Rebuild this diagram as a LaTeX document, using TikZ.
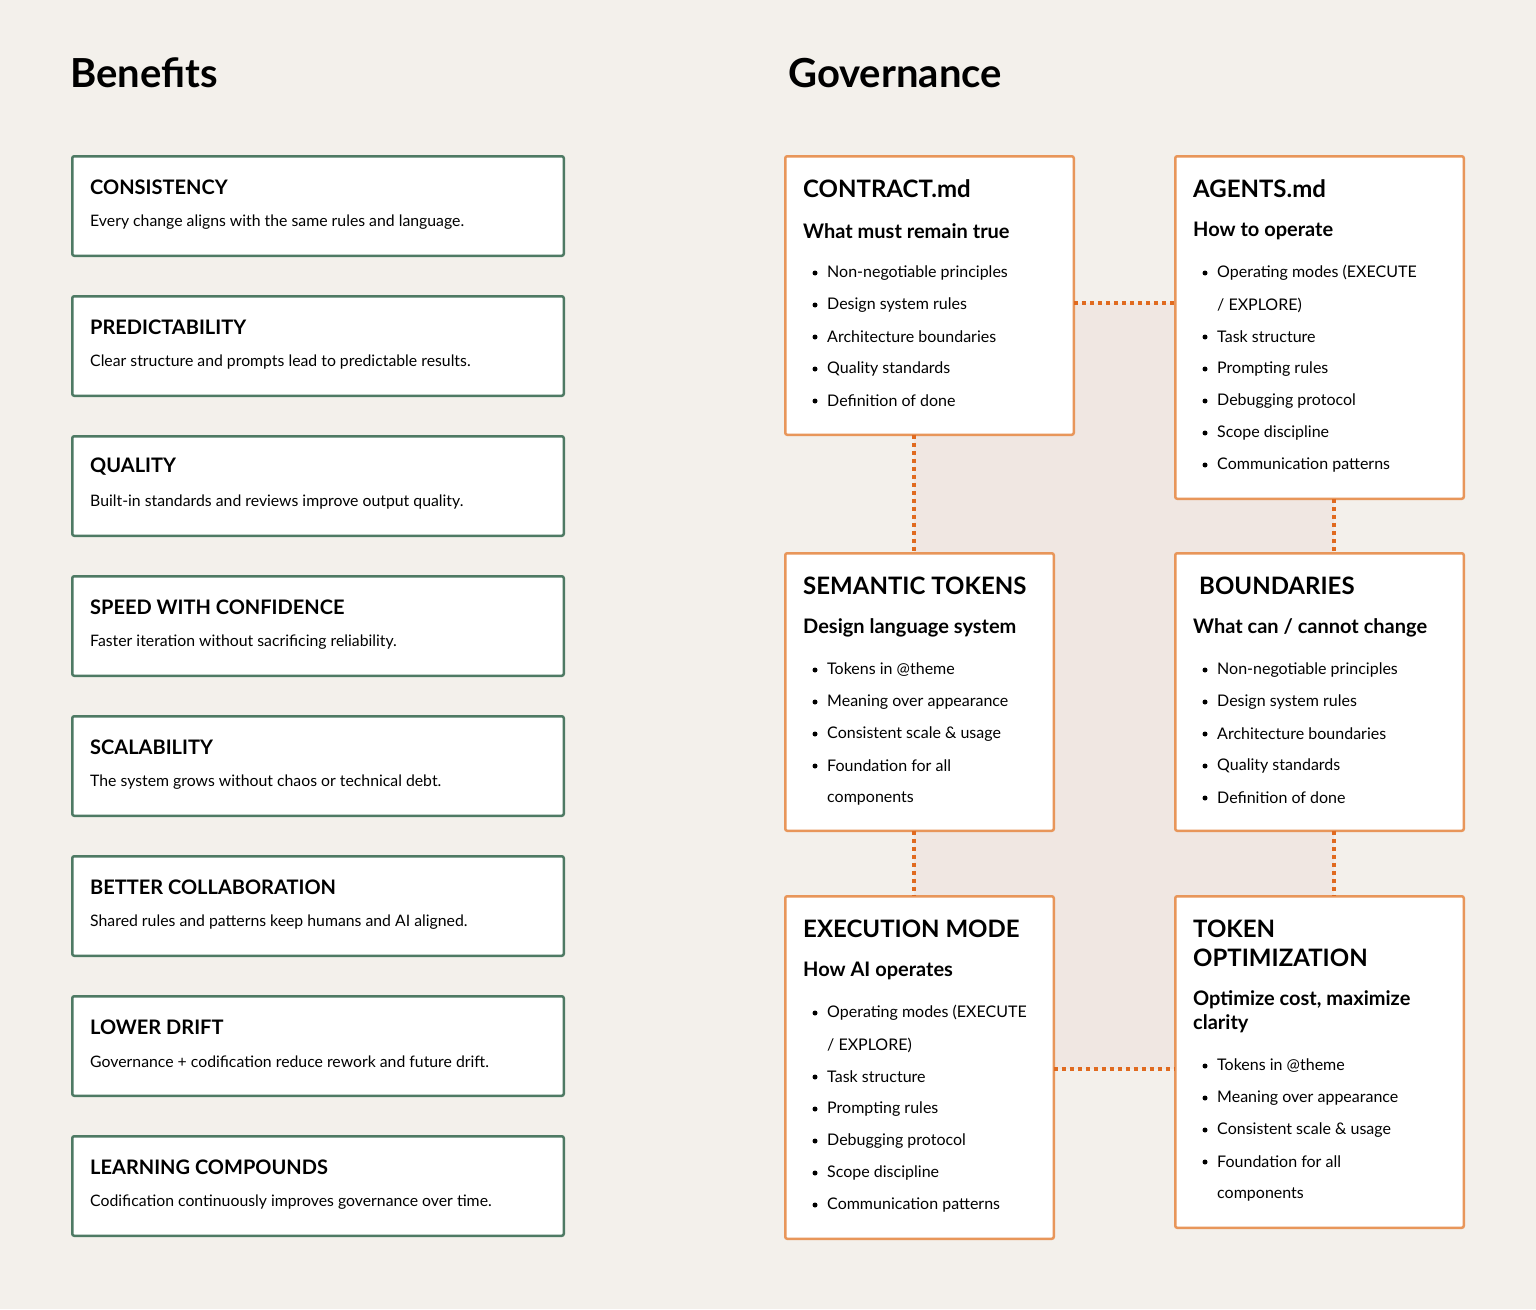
\documentclass[tikz,border=0pt]{standalone}
\usepackage{fontspec}
\setmainfont{Lato}
\begin{document}
\begin{tikzpicture}[x=1pt,y=-1pt,
  ben/.style={draw=benc,line width=2.5pt,fill=white,rounded corners=2pt,minimum width=491.5pt,minimum height=99.5pt,anchor=north west,inner sep=0pt,outer sep=0pt},
  gov/.style={draw=govc,line width=2.5pt,fill=white,rounded corners=2pt,anchor=north west,inner sep=0pt,outer sep=0pt},
  btitle/.style={anchor=west,font=\fontsize{20}{23}\selectfont\bfseries,inner sep=0pt},
  bdesc/.style={anchor=west,font=\fontsize{15.8}{18}\selectfont,inner sep=0pt},
  gtitle/.style={anchor=west,font=\fontsize{24}{29}\selectfont\bfseries,inner sep=0pt,align=left},
  gsub/.style={anchor=west,font=\fontsize{20}{24}\selectfont\bfseries,inner sep=0pt,align=left},
  item/.style={anchor=west,font=\fontsize{16}{18}\selectfont,inner sep=0pt},
  dot/.style={circle,fill=black,inner sep=0pt,minimum size=5pt},
  conn/.style={draw=connc,line width=4pt,dash pattern=on 4pt off 4pt},
  head/.style={anchor=west,font=\fontsize{40}{44}\selectfont\bfseries,inner sep=0pt}]
\definecolor{bg}{HTML}{F3F0EB}
\definecolor{benc}{HTML}{4E7A64}
\definecolor{govc}{HTML}{E8965A}
\definecolor{connc}{HTML}{E06A1F}
\definecolor{tint}{HTML}{F0E7E2}
\fill[bg] (0,0) rectangle (1536,1309);
\useasboundingbox (0,0) rectangle (1536,1309);
\fill[tint] (914,303) rectangle (1334,1069);
\node[head] (h1) at (70,73) {Benefits};
\node[head] (h2) at (788,73) {Governance};
% Benefits
\foreach \i/\t/\d in {0/CONSISTENCY/Every change aligns with the same rules and language.,
 1/PREDICTABILITY/Clear structure and prompts lead to predictable results.,
 2/QUALITY/Built-in standards and reviews improve output quality.,
 3/SPEED WITH CONFIDENCE/Faster iteration without sacrificing reliability.,
 4/SCALABILITY/The system grows without chaos or technical debt.,
 5/BETTER COLLABORATION/Shared rules and patterns keep humans and AI aligned.,
 6/LOWER DRIFT/Governance + codification reduce rework and future drift.,
 7/LEARNING COMPOUNDS/Codification continuously improves governance over time.}{
  \node[ben] (b\i) at (72.25,156.25+140*\i) {};
  \node[btitle] (bt\i) at (90,187+140*\i) {\t};
  \node[bdesc] (bd\i) at (90,222+140*\i) {\d};
}
% Governance boxes
\node[gov,minimum width=288.5pt,minimum height=278.5pt] (contract) at (785.25,156.25) {};
\node[gov,minimum width=288.5pt,minimum height=342.5pt] (agents) at (1175.25,156.25) {};
\node[gov,minimum width=268.5pt,minimum height=277.5pt] (sem) at (785.25,553.25) {};
\node[gov,minimum width=288.5pt,minimum height=277.5pt] (bound) at (1175.25,553.25) {};
\node[gov,minimum width=268.5pt,minimum height=342.5pt] (exec) at (785.25,896.25) {};
\node[gov,minimum width=288.5pt,minimum height=331.5pt] (tok) at (1175.25,896.25) {};
% connectors
\draw[conn] (contract.east |- 0,303) -- (agents.west |- 0,303);
\draw[conn] (contract.south -| 914,0) -- (sem.north -| 914,0);
\draw[conn] (agents.south -| 1334,0) -- (bound.north -| 1334,0);
\draw[conn] (sem.south -| 914,0) -- (exec.north -| 914,0);
\draw[conn] (bound.south -| 1334,0) -- (tok.north -| 1334,0);
\draw[conn] (exec.east |- 0,1069) -- (tok.west |- 0,1069);
% texts
\node[gtitle] (ct) at (803,189) {CONTRACT.md};
\node[gsub] (cs) at (803,231) {What must remain true};
\foreach \j/\t in {0/Non-negotiable principles,1/Design system rules,2/Architecture boundaries,3/Quality standards,4/Definition of done}{
  \node[dot] at (815,273+32*\j) {}; \node[item] at (827,273+32*\j) {\t};}
\node[gtitle] (at) at (1193,189) {AGENTS.md};
\node[gsub] (as) at (1193,231) {How to operate};
\foreach \j/\t in {0/Operating modes (EXECUTE,2/Task structure,3/Prompting rules,4/Debugging protocol,5/Scope discipline,6/Communication patterns}{
  \node[dot] at (1205,273+32*\j) {}; \node[item] at (1217,273+32*\j) {\t};}
\node[item] at (1217,305) {/ EXPLORE)};
\node[gtitle] (st) at (803,586) {SEMANTIC TOKENS};
\node[gsub] (ss) at (803,628) {Design language system};
\foreach \j/\t in {0/Tokens in @theme,1/Meaning over appearance,2/Consistent scale \& usage,3/Foundation for all}{
  \node[dot] at (815,670+32*\j) {}; \node[item] at (827,670+32*\j) {\t};}
\node[item] at (827,798) {components};
\node[gtitle] (bt) at (1199,586) {BOUNDARIES};
\node[gsub] (bs) at (1193,628) {What can / cannot change};
\foreach \j/\t in {0/Non-negotiable principles,1/Design system rules,2/Architecture boundaries,3/Quality standards,4/Definition of done}{
  \node[dot] at (1205,670+32*\j) {}; \node[item] at (1217,670+32*\j) {\t};}
\node[gtitle] (et) at (803,929) {EXECUTION MODE};
\node[gsub] (es) at (803,971) {How AI operates};
\foreach \j/\t in {0/Operating modes (EXECUTE,2/Task structure,3/Prompting rules,4/Debugging protocol,5/Scope discipline,6/Communication patterns}{
  \node[dot] at (815,1013+32*\j) {}; \node[item] at (827,1013+32*\j) {\t};}
\node[item] at (827,1045) {/ EXPLORE)};
\node[gtitle] (tt) at (1193,943.5) {TOKEN\\OPTIMIZATION};
\node[gsub] (ts) at (1193,1012) {Optimize cost, maximize\\clarity};
\foreach \j/\t in {0/Tokens in @theme,1/Meaning over appearance,2/Consistent scale \& usage,3/Foundation for all}{
  \node[dot] at (1205,1066+32*\j) {}; \node[item] at (1217,1066+32*\j) {\t};}
\node[item] at (1217,1194) {components};
\end{tikzpicture}
\end{document}
